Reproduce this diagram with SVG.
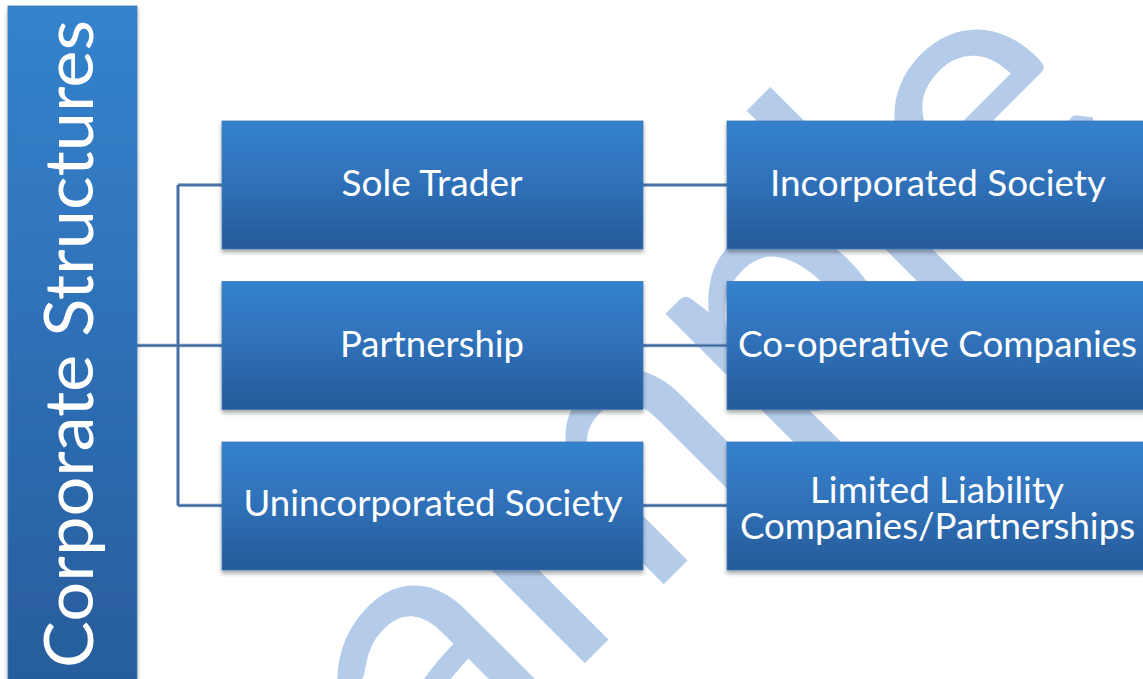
<svg xmlns="http://www.w3.org/2000/svg" width="1143" height="679" viewBox="0 0 1143 679">
  <defs>
    <linearGradient id="boxFill" x1="0" y1="0" x2="0" y2="1">
      <stop offset="0" stop-color="#3482cd"/>
      <stop offset="0.5" stop-color="#2f70b8"/>
      <stop offset="1" stop-color="#265b98"/>
    </linearGradient>
    <linearGradient id="tallFill" x1="0" y1="0" x2="0" y2="1">
      <stop offset="0" stop-color="#3483cd"/>
      <stop offset="0.5" stop-color="#2e6fb6"/>
      <stop offset="1" stop-color="#275c99"/>
    </linearGradient>
    <filter id="shadow" x="-5%" y="-10%" width="110%" height="125%">
      <feDropShadow dx="0" dy="3" stdDeviation="2.2" flood-color="#000" flood-opacity="0.35"/>
    </filter>
    <path id="links" d="M137 345.5 H178 M178 185 V505.5 M178 185 H222 M178 345.5 H222 M178 505.5 H222 M643 185 H727 M643 345.5 H727 M643 505.5 H727"/>
  </defs>
  <style>
    .box { fill: url(#boxFill); stroke: #3f78ba; stroke-width: 0.8; filter: url(#shadow); }
    .label { fill: #ffffff; font-family: Lato, "Liberation Sans", sans-serif; font-size: 36px; text-anchor: middle; }
    .wm { fill: #b4ccea; font-family: Lato, "Liberation Sans", sans-serif; font-size: 375px; }
    .link-under { fill: none; stroke: #7d9ec8; stroke-width: 3.5; }
    .link { fill: none; stroke: #3b6498; stroke-width: 1.6; }
  </style>

  <rect width="1143" height="679" fill="#ffffff"/>

  <!-- background watermark, set along a rising diagonal -->
  <g id="watermark" transform="translate(593,655) rotate(-45)">
    <text class="wm" x="-520 -220 -38 266 466 553" y="0">Sample</text>
  </g>

  <!-- connectors -->
  <g id="connectors">
    <use href="#links" class="link-under"/>
    <use href="#links" class="link"/>
  </g>

  <!-- root -->
  <g id="root">
    <rect x="8" y="6" width="129" height="690" fill="url(#tallFill)" stroke="#3f78ba" stroke-width="0.8" filter="url(#shadow)"/>
    <text transform="translate(93,344) rotate(-90)" x="0" y="0" fill="#ffffff" font-family="Lato, 'Liberation Sans', sans-serif" font-size="68" text-anchor="middle" textLength="648" lengthAdjust="spacingAndGlyphs">Corporate Structures</text>
  </g>

  <!-- first column -->
  <g id="sole-trader">
    <rect class="box" x="222" y="121" width="421" height="128"/>
    <text class="label" x="432" y="196" textLength="181" lengthAdjust="spacingAndGlyphs">Sole Trader</text>
  </g>
  <g id="partnership">
    <rect class="box" x="222" y="281.5" width="421" height="128"/>
    <text class="label" x="432" y="356.5" textLength="184" lengthAdjust="spacingAndGlyphs">Partnership</text>
  </g>
  <g id="unincorporated-society">
    <rect class="box" x="222" y="442" width="421" height="128"/>
    <text class="label" x="433" y="516" textLength="379" lengthAdjust="spacingAndGlyphs">Unincorporated Society</text>
  </g>

  <!-- second column -->
  <g id="incorporated-society">
    <rect class="box" x="727" y="121" width="430" height="128"/>
    <text class="label" x="938" y="196" textLength="336" lengthAdjust="spacingAndGlyphs">Incorporated Society</text>
  </g>
  <g id="co-operative-companies">
    <rect class="box" x="727" y="281.5" width="430" height="128"/>
    <text class="label" x="937.5" y="356.5" textLength="399" lengthAdjust="spacingAndGlyphs">Co-operative Companies</text>
  </g>
  <g id="limited-liability">
    <rect class="box" x="727" y="442" width="430" height="128"/>
    <text class="label" x="937" y="503" textLength="254" lengthAdjust="spacingAndGlyphs">Limited Liability</text>
    <text class="label" x="937.5" y="539" textLength="395" lengthAdjust="spacingAndGlyphs">Companies/Partnerships</text>
  </g>
</svg>
